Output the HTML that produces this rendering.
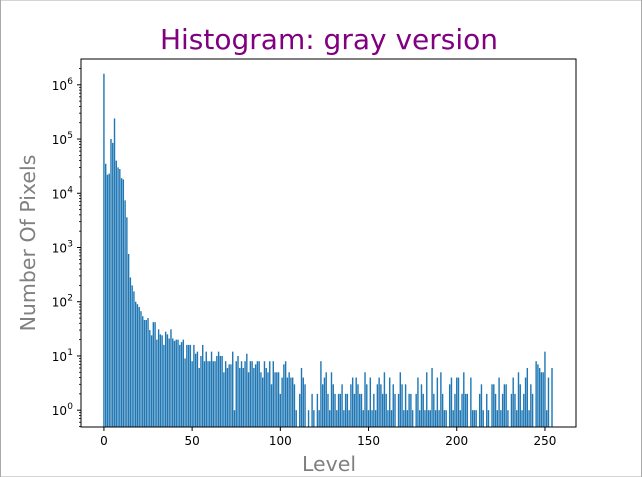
<!DOCTYPE html>
<html><head><meta charset="utf-8"><style>
html,body{margin:0;padding:0;background:#fff;}
body{width:642px;height:477px;overflow:hidden;position:relative;font-family:"DejaVu Sans","Liberation Sans",sans-serif;}
</style></head><body>
<svg id="chart" width="642" height="477" xmlns="http://www.w3.org/2000/svg" style="position:absolute;left:0;top:0;font-family:'DejaVu Sans','Liberation Sans',sans-serif">
<rect x="0.5" y="0" width="641" height="477" fill="#fff" stroke="#aaa" stroke-width="1"/>
<text x="329" y="49" text-anchor="middle" font-size="28" fill="#800080">Histogram: gray version</text>
<text x="329" y="471" text-anchor="middle" font-size="20.5" fill="#808080">Level</text>
<text transform="translate(35,243) rotate(-90)" text-anchor="middle" font-size="20.5" fill="#808080">Number Of Pixels</text>
<g id="bars"></g>
<g id="axes"></g>
<rect x="81" y="59" width="495" height="368" fill="none" stroke="#000" stroke-width="1"/>
</svg>
<script>
const counts = [1600000,35000,22000,23000,100000,85000,240000,40000,30000,28000,19000,18000,7400,3600,760,280,200,155,100,90,80,67,54,46,46,50,30,24,42,42,20,31,25,24,16,28,25,21,31,21,19,20,20,16,18,20,9,16,16,16,8,16,11,12,6,10,16,8,12,8,
8,12,8,8,10,12,10,10,5,8,6,7,7,12,1,8,10,6,8,6,8,11,5,8,8,6,7,8,8,5,4,8,6,5,8,3,8,5,5,5,2,4,7,8,4,5,4,4,3,1,0,2,6,4,3,0,1,0,2,1,
0,2,1,8,3,4,5,2,1,5,3,2,1,2,2,3,1,2,2,1,3,4,2,4,3,2,2,1,5,3,1,4,1,2,1,3,4,3,2,5,2,1,4,1,3,2,0,2,5,3,1,3,1,2,2,1,0,2,4,1,
3,2,1,5,1,1,6,2,1,4,1,5,2,1,1,0,3,4,1,2,4,4,1,2,5,2,2,0,4,1,1,1,0,2,3,1,0,2,1,0,3,3,2,1,4,1,2,3,3,1,0,2,4,2,1,5,3,1,2,4,6,1,3,2,0,8,7,6,5,5,12,1,4,0,6,0];
const xTicks = [0,50,100,150,200,250];
const yTickExps = [0,1,2,3,4,5,6];

const NS="http://www.w3.org/2000/svg";
const X0=81,X1=576,Y0=59,Y1=427;
const xMin=-13.0,xMax=267.6,lMin=-0.31,lMax=6.476;
function xs(v){return X0+(v-xMin)/(xMax-xMin)*(X1-X0);}
function ys(v){return Y1-(Math.log10(v)-lMin)/(lMax-lMin)*(Y1-Y0);}
function mk(tag,attrs,parent){const e=document.createElementNS(NS,tag);for(const k in attrs)e.setAttribute(k,attrs[k]);parent.appendChild(e);return e;}
const barsG=document.getElementById('bars');
counts.forEach((c,i)=>{
  if(c<=0)return;
  const xl=xs(i-0.4),xr=xs(i+0.4),yt=Math.max(Y0,ys(c));
  const r=mk('rect',{x:xl,y:yt,width:xr-xl,height:Y1-yt,fill:'#1f77b4'},barsG);
  
  
});
const ax=document.getElementById('axes');
xTicks.forEach(t=>{
  const x=xs(t);
  const l=mk('line',{x1:x,x2:x,y1:Y1,y2:Y1+4,stroke:'#000','stroke-width':1},ax);
  
  
  const tx=mk('text',{x:x,y:Y1+18,'text-anchor':'middle','font-size':12,fill:'#000'},ax);
  tx.textContent=t;
  
  
});
yTickExps.forEach(e=>{
  const y=ys(Math.pow(10,e));
  const l=mk('line',{x1:X0-4,x2:X0,y1:y,y2:y,stroke:'#000','stroke-width':1},ax);
  
  
  const tx=mk('text',{x:X0-14,y:y+5,'text-anchor':'end','font-size':12,fill:'#000'},ax);
  tx.textContent='10';
  
  
  const sp=mk('text',{x:X0-8,y:y-1,'text-anchor':'end','font-size':9,fill:'#000'},ax);
  sp.textContent=e;
  
  
  for(let m=2;m<10;m++){
    const v=m*Math.pow(10,e-1);
    const ym=ys(v);
    if(ym<Y0||ym>Y1)continue;
    const ml=mk('line',{x1:X0-2,x2:X0,y1:ym,y2:ym,stroke:'#000','stroke-width':0.8},ax);
    
    
  }
});
for(let m=2;m<10;m++){
  const ym=ys(m*1e6);
  if(ym<Y0)continue;
  const ml=mk('line',{x1:X0-2,x2:X0,y1:ym,y2:ym,stroke:'#000','stroke-width':0.8},ax);
  
  
}
</script>
</body></html>
